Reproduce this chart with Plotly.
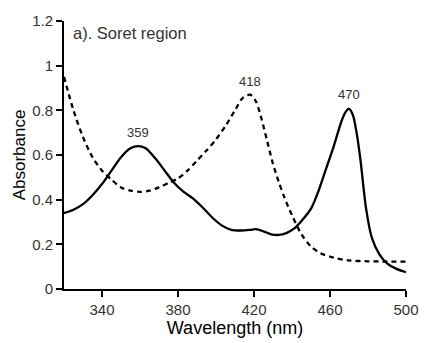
import plotly.graph_objects as go

# Solid spectrum
wl_solid = [320, 325, 330, 335, 340, 345, 350, 355, 359, 363, 368, 373, 378, 383, 388, 393, 398, 403, 408, 413, 418, 421, 425, 429, 433, 437, 441, 445, 450, 454, 458, 462, 466, 468, 470, 472, 474, 476, 479, 482, 486, 490, 495, 500]
abs_solid = [0.34, 0.355, 0.38, 0.42, 0.47, 0.53, 0.59, 0.63, 0.64, 0.63, 0.585, 0.53, 0.475, 0.435, 0.405, 0.365, 0.32, 0.285, 0.265, 0.262, 0.265, 0.268, 0.258, 0.245, 0.242, 0.25, 0.27, 0.305, 0.36, 0.44, 0.54, 0.64, 0.75, 0.79, 0.807, 0.78, 0.7, 0.58, 0.36, 0.23, 0.155, 0.115, 0.09, 0.075]

# Dashed spectrum
wl_dash = [320, 325, 330, 335, 340, 345, 350, 355, 360, 365, 370, 375, 380, 385, 390, 395, 400, 405, 410, 414, 418, 421, 424, 427, 430, 433, 436, 440, 445, 450, 455, 462, 470, 480, 490, 500]
abs_dash = [0.95, 0.80, 0.68, 0.59, 0.53, 0.49, 0.455, 0.44, 0.435, 0.44, 0.455, 0.475, 0.495, 0.53, 0.575, 0.62, 0.67, 0.73, 0.8, 0.855, 0.87, 0.84, 0.76, 0.66, 0.56, 0.48, 0.41, 0.33, 0.245, 0.19, 0.16, 0.14, 0.128, 0.124, 0.123, 0.123]

peak_x = [359, 418, 470]
peak_y = [0.70, 0.93, 0.87]
peak_labels = ["359", "418", "470"]

x_ticks = [340, 380, 420, 460, 500]
y_ticks = [0, 0.2, 0.4, 0.6, 0.8, 1, 1.2]
y_tick_labels = ["0", "0.2", "0.4", "0.6", "0.8", "1", "1.2"]

font = "Liberation Sans, Arial, sans-serif"
txt = "#333333"

fig = go.Figure()
fig.add_trace(go.Scatter(x=wl_dash, y=abs_dash, mode="lines",
                         line=dict(color="black", width=2.3, dash="5px,4px", shape="spline", smoothing=0.8),
                         showlegend=False, hoverinfo="skip"))
fig.add_trace(go.Scatter(x=wl_solid, y=abs_solid, mode="lines",
                         line=dict(color="black", width=2.3, shape="spline", smoothing=0.8),
                         showlegend=False, hoverinfo="skip"))

for x, y, t in zip(peak_x, peak_y, peak_labels):
    fig.add_annotation(x=x, y=y, text=t, showarrow=False,
                       font=dict(family=font, size=13, color=txt), yanchor="middle")

fig.add_annotation(x=0.02, y=1.2, xref="paper", yref="y", text="a). Soret region",
                   showarrow=False, xanchor="left", yanchor="top", yshift=-1,
                   font=dict(family=font, size=16.5, color=txt))

fig.update_layout(
    width=431, height=343,
    margin=dict(l=64, r=17, t=17, b=42),
    paper_bgcolor="white", plot_bgcolor="white",
    font=dict(family=font, color=txt),
    xaxis=dict(range=[320, 500], tickvals=x_ticks, ticks="outside", ticklen=6, tickwidth=1.5,
               tickcolor="black", showline=True, linecolor="black", linewidth=2,
               showgrid=False, zeroline=False, tickfont=dict(size=15, color=txt),
               title=dict(text="Wavelength (nm)", font=dict(size=18, color="black"), standoff=0)),
    yaxis=dict(range=[0, 1.2], tickvals=y_ticks, ticktext=y_tick_labels, ticks="outside", ticklen=6,
               tickwidth=1.5, tickcolor="black", showline=True, linecolor="black", linewidth=2,
               showgrid=False, zeroline=False, tickfont=dict(size=15, color=txt),
               title=dict(text="Absorbance", font=dict(size=17, color="black"), standoff=2)),
)

# remove the default 8px body margin so the 431x343 figure fills the window exactly
sync_fix = "}); document.body.style.margin='0px'; (function(){"

fig.write_html("out.html", config={"displayModeBar": False}, post_script=[sync_fix])
